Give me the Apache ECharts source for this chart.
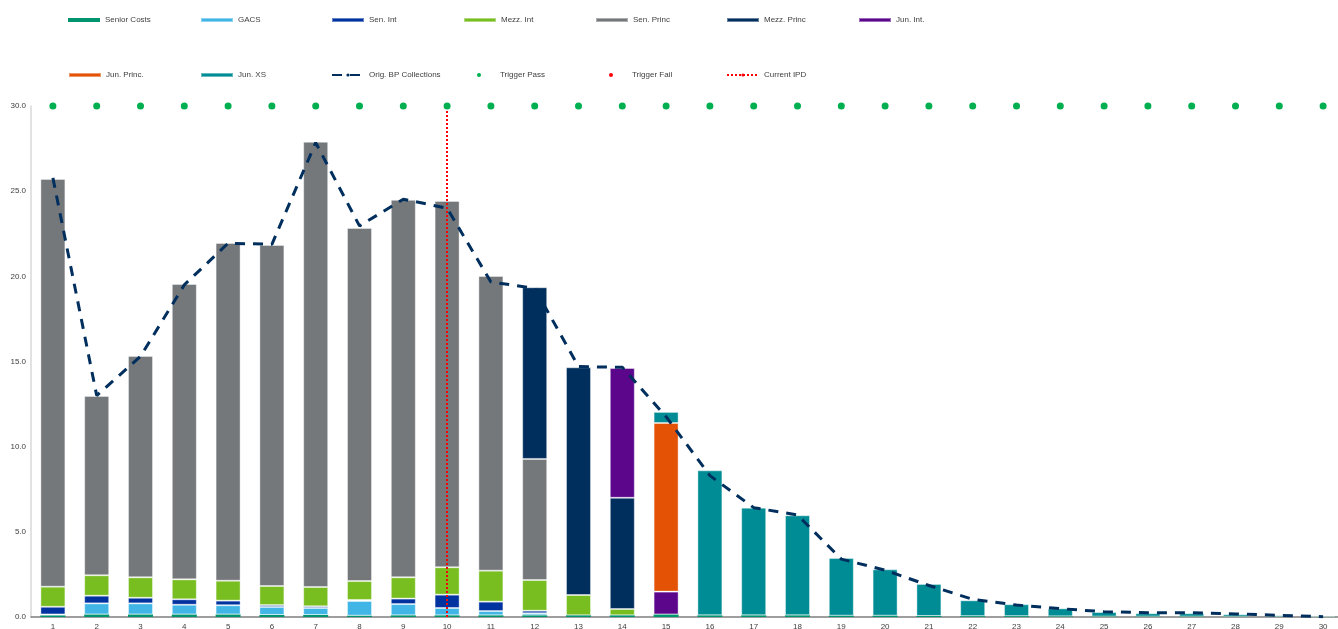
<!DOCTYPE html>
<html>
<head>
<meta charset="utf-8">
<script src="https://cdn.jsdelivr.net/npm/echarts@6/dist/echarts.min.js"></script>
<style>
html,body{margin:0;padding:0;background:#fff;}
#c{width:1338px;height:629px;}
</style>
</head>
<body>
<div id="c"></div>
<script>
var categories = ['1','2','3','4','5','6','7','8','9','10','11','12','13','14','15','16','17','18','19','20','21','22','23','24','25','26','27','28','29','30'];
var yTicks = [0, 5, 10, 15, 20, 25, 30];

var seniorCosts = [0.10,0.15,0.15,0.15,0.15,0.12,0.12,0.08,0.10,0.10,0.10,0.10,0.10,0.10,0.15,0.10,0.10,0.10,0.08,0.08,0.06,0.05,0.05,0.04,0.03,0.03,0.03,0.02,0.02,0.02];
var gacs        = [0.05,0.65,0.65,0.57,0.54,0.47,0.41,0.86,0.66,0.43,0.25,0.12,0,0,0,0,0,0,0,0,0,0,0,0,0,0,0,0,0,0];
var senInt      = [0.45,0.45,0.33,0.32,0.27,0.11,0.10,0.06,0.32,0.78,0.55,0.15,0,0,0,0,0,0,0,0,0,0,0,0,0,0,0,0,0,0];
var mezzInt     = [1.18,1.20,1.20,1.17,1.17,1.12,1.13,1.11,1.25,1.61,1.82,1.80,1.19,0.37,0,0,0,0,0,0,0,0,0,0,0,0,0,0,0,0];
var senPrinc    = [23.94,10.53,13.00,17.34,19.83,20.02,26.14,20.73,22.16,21.51,17.30,7.11,0,0,0,0,0,0,0,0,0,0,0,0,0,0,0,0,0,0];
var mezzPrinc   = [0,0,0,0,0,0,0,0,0,0,0,10.08,13.37,6.53,0,0,0,0,0,0,0,0,0,0,0,0,0,0,0,0];
var junInt      = [0,0,0,0,0,0,0,0,0,0,0,0,0,7.62,1.34,0,0,0,0,0,0,0,0,0,0,0,0,0,0,0];
var junPrinc    = [0,0,0,0,0,0,0,0,0,0,0,0,0,0,9.90,0,0,0,0,0,0,0,0,0,0,0,0,0,0,0];
var junXS       = [0,0,0,0,0,0,0,0,0,0,0,0,0,0,0.65,8.51,6.32,5.87,3.38,2.72,1.88,0.93,0.70,0.47,0.26,0.19,0.19,0.14,0.08,0.06];
var origBP      = [25.78,13.0,15.3,19.5,21.94,21.88,27.85,22.96,24.53,24.0,19.67,19.3,14.7,14.66,11.76,8.3,6.42,5.99,3.4,2.75,1.85,1.04,0.7,0.49,0.31,0.25,0.25,0.18,0.1,0.02];
var triggerPass = [30,30,30,30,30,30,30,30,30,30,30,30,30,30,30,30,30,30,30,30,30,30,30,30,30,30,30,30,30,30];
var triggerFail = [];
var currentIPD = '10';

var barDefs = [
  ['Senior Costs', seniorCosts, '#00956e'],
  ['GACS', gacs, '#41b6e6'],
  ['Sen. Int', senInt, '#0032a0'],
  ['Mezz. Int', mezzInt, '#78be20'],
  ['Sen. Princ', senPrinc, '#75787b'],
  ['Mezz. Princ', mezzPrinc, '#002f5e'],
  ['Jun. Int.', junInt, '#5c068c'],
  ['Jun. Princ.', junPrinc, '#e35205'],
  ['Jun. XS', junXS, '#008c95']
];

var series = barDefs.map(function (d, i) {
  return {
    name: d[0], type: 'bar', stack: 'total', barWidth: 25,
    data: d[1].map(function (v) { return v > 0 ? v : null; }),
    itemStyle: { color: d[2], borderColor: 'rgba(255,255,255,0.4)', borderWidth: i === 0 ? 0 : 1 },
    emphasis: { disabled: true }
  };
});

series.push({
  name: 'Orig. BP Collections', type: 'line', data: origBP, symbol: 'none', z: 5,
  itemStyle: { color: '#002f5e' },
  lineStyle: { color: '#002f5e', width: 3, type: [10, 8] }
});
series.push({
  name: 'Trigger Pass', type: 'scatter', data: triggerPass, symbol: 'circle', symbolSize: 7, z: 6,
  itemStyle: { color: '#00b050', opacity: 1 }
});
series.push({
  name: 'Trigger Fail', type: 'scatter', data: triggerFail, symbol: 'circle', symbolSize: 7,
  itemStyle: { color: '#ff0000', opacity: 1 }
});
series.push({
  name: 'Current IPD', type: 'line', data: [], symbol: 'none', z: 7,
  itemStyle: { color: '#ff0000' },
  lineStyle: { color: '#ff0000', width: 2, type: [2, 2] },
  markLine: {
    silent: true, symbol: ['none', 'none'], label: { show: false },
    lineStyle: { color: '#ff0000', width: 2, type: [2, 2] },
    data: [{ xAxis: currentIPD }]
  }
});

var legendNames = ['Senior Costs','GACS','Sen. Int','Mezz. Int','Sen. Princ','Mezz. Princ','Jun. Int.','Jun. Princ.','Jun. XS','Orig. BP Collections','Trigger Pass','Trigger Fail','Current IPD'];
var legendX = [68, 200, 331, 463, 595, 726, 858];
var legends = legendNames.map(function (n, i) {
  var row = i < 7 ? 0 : 1;
  var col = i < 7 ? i : i - 7;
  var isDot = (n === 'Trigger Pass' || n === 'Trigger Fail');
  return {
    data: [{ name: n, icon: isDot ? 'circle' : (i < 9 ? 'rect' : undefined) }],
    left: legendX[col] + (isDot ? 14 : 0), top: row === 0 ? 16 : 71,
    itemWidth: 32, itemHeight: 4, padding: 0,
    selectedMode: false,
    textStyle: { fontFamily: 'Liberation Sans', fontSize: 8, color: '#404040' }
  };
});

var chart = echarts.init(document.getElementById('c'));
chart.setOption({
  animation: false,
  backgroundColor: '#fff',
  legend: legends,
  grid: { left: 31, right: -7, top: 106, bottom: 12, containLabel: false, outerBoundsMode: 'none' },
  xAxis: {
    type: 'category', data: categories,
    axisLine: { show: true, lineStyle: { color: '#7f7f7f', width: 1.5 } },
    axisTick: { show: false },
    axisLabel: { fontFamily: 'Liberation Sans', fontSize: 8, color: '#404040', margin: 6 }
  },
  yAxis: {
    type: 'value', min: yTicks[0], max: yTicks[yTicks.length - 1], interval: 5,
    axisLine: { show: true, lineStyle: { color: '#d9d9d9', width: 1.5 } },
    axisTick: { show: false },
    splitLine: { show: false },
    axisLabel: { fontFamily: 'Liberation Sans', fontSize: 8, color: '#404040', margin: 5,
      formatter: function (v) { return v.toFixed(1); } }
  },
  series: series
});
</script>
</body>
</html>
